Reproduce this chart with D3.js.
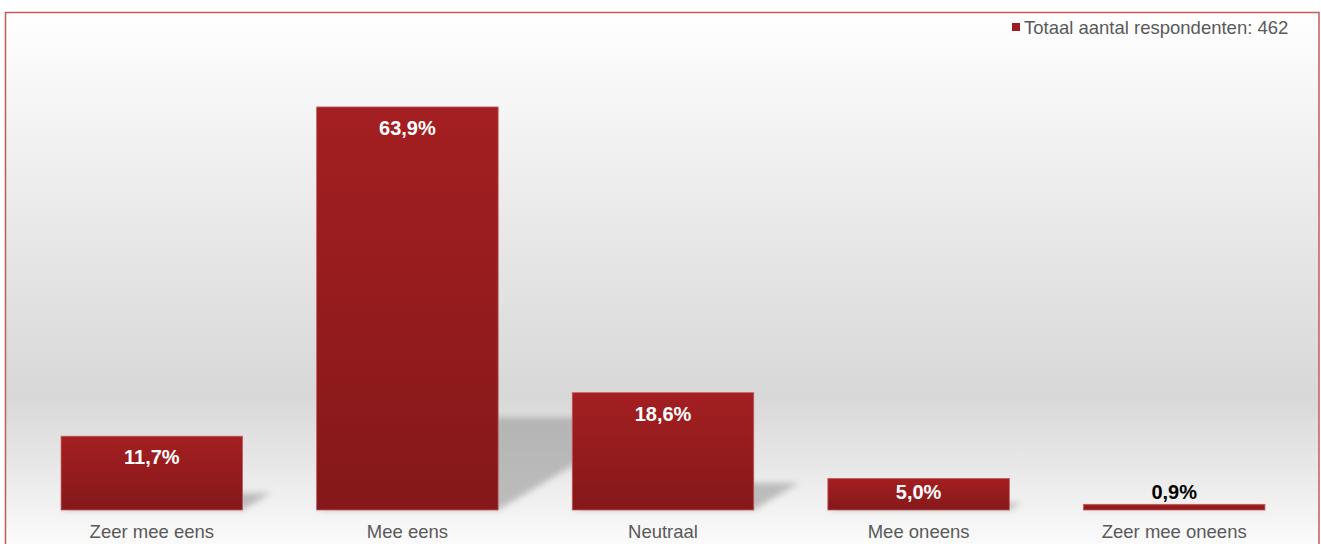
<!DOCTYPE html>
<html>
<head>
<meta charset="utf-8">
<script src="https://cdn.jsdelivr.net/npm/d3@7"></script>
<style>
  html, body { margin: 0; padding: 0; background: #ffffff; }
  svg { display: block; font-family: "Liberation Sans", Arial, sans-serif; }
</style>
</head>
<body>
<svg id="chart" width="1321" height="544"></svg>
<script>
// Survey answers and their share of respondents (%)
const categories = ["Zeer mee eens", "Mee eens", "Neutraal", "Mee oneens", "Zeer mee oneens"];
const percentages = [11.7, 63.9, 18.6, 5.0, 0.9];
const legendLabel = "Totaal aantal respondenten: 462";

const W = 1321, H = 544;
const svg = d3.select("#chart");
const defs = svg.append("defs");

// Background: white at the top, grey band toward the floor, light at the bottom
const bg = defs.append("linearGradient").attr("id", "bgGrad")
  .attr("x1", 0).attr("y1", 0).attr("x2", 0).attr("y2", 1);
[[0, "#ffffff"], [0.12, "#f8f8f8"], [0.45, "#e6e6e6"], [0.72, "#d8d8d8"], [0.84, "#e6e6e6"], [0.94, "#f3f3f3"], [1, "#fbfbfb"]]
  .forEach(([o, c]) => bg.append("stop").attr("offset", o).attr("stop-color", c));

// Bar fill: brighter red at the top, darker at the base
const barGrad = defs.append("linearGradient").attr("id", "barGrad")
  .attr("x1", 0).attr("y1", 0).attr("x2", 0).attr("y2", 1);
barGrad.append("stop").attr("offset", 0).attr("stop-color", "#a41f21");
barGrad.append("stop").attr("offset", 1).attr("stop-color", "#85181a");

defs.append("filter").attr("id", "shadowBlur")
  .attr("x", "-20%").attr("y", "-50%").attr("width", "140%").attr("height", "200%")
  .append("feGaussianBlur").attr("stdDeviation", 3);

// Plot area background and frame
svg.append("rect").attr("x", 6).attr("y", 12).attr("width", 1313).attr("height", H - 12)
  .attr("fill", "url(#bgGrad)");
svg.append("rect").attr("x", 5.5).attr("y", 12.5).attr("width", 1313.5).attr("height", H + 20)
  .attr("fill", "none").attr("stroke", "#c9585a").attr("stroke-width", 1.5);

// Scales
const x = d3.scaleBand().domain(categories).range([24, 1302])
  .paddingInner(0.29).paddingOuter(0.145);
const y = d3.scaleLinear().domain([0, 70]).range([510, 68.5]);

const data = categories.map((c, i) => ({ cat: c, value: percentages[i] }));
const barH = d => y(0) - y(d.value);

// Soft cast shadows slanting back to the right of each bar
const shadowRatio = 0.23, slant = 1.67;
svg.append("g").attr("filter", "url(#shadowBlur)")
  .selectAll("path").data(data).join("path")
  .attr("d", d => {
    const x0 = x(d.cat), x1 = x0 + x.bandwidth();
    const yb = y(0), sh = barH(d) * shadowRatio;
    return `M${x0},${yb}L${x1},${yb}L${x1 + slant * sh},${yb - sh}L${x0 + slant * sh},${yb - sh}Z`;
  })
  .attr("fill", "#9a9a9a").attr("fill-opacity", 0.6);

// Bars
svg.append("g").selectAll("rect").data(data).join("rect")
  .attr("x", d => x(d.cat))
  .attr("y", d => y(d.value))
  .attr("width", x.bandwidth())
  .attr("height", barH)
  .attr("fill", "url(#barGrad)")
  .attr("stroke", "#c25a5c").attr("stroke-width", 0.8);

// Value labels: inside in white, above in black when the bar is too short
const fmt = v => v.toFixed(1).replace(".", ",") + "%";
const inside = d => barH(d) > 26;
svg.append("g").selectAll("text").data(data).join("text")
  .attr("x", d => x(d.cat) + x.bandwidth() / 2)
  .attr("y", d => inside(d) ? y(d.value) + Math.min(28, barH(d) - 11.5) : y(d.value) - 5)
  .attr("text-anchor", "middle")
  .attr("font-size", 20).attr("font-weight", "bold")
  .attr("fill", d => inside(d) ? "#ffffff" : "#000000")
  .text(d => fmt(d.value));

// Category axis labels
const xAxis = d3.axisBottom(x).tickSize(0).tickPadding(15);
const gx = svg.append("g").attr("transform", `translate(0,${y(0)})`).call(xAxis);
gx.select(".domain").remove();
gx.selectAll("text")
  .attr("font-family", "'Liberation Sans', Arial, sans-serif")
  .attr("font-size", 18.5).attr("fill", "#595959");

// Legend
const lg = svg.append("g").attr("transform", "translate(1012,23)");
lg.append("rect").attr("width", 8).attr("height", 8).attr("fill", "#9c1e20");
lg.append("text").attr("x", 12).attr("y", 10.5)
  .attr("font-size", 18.5).attr("fill", "#595959").text(legendLabel);
</script>
</body>
</html>
